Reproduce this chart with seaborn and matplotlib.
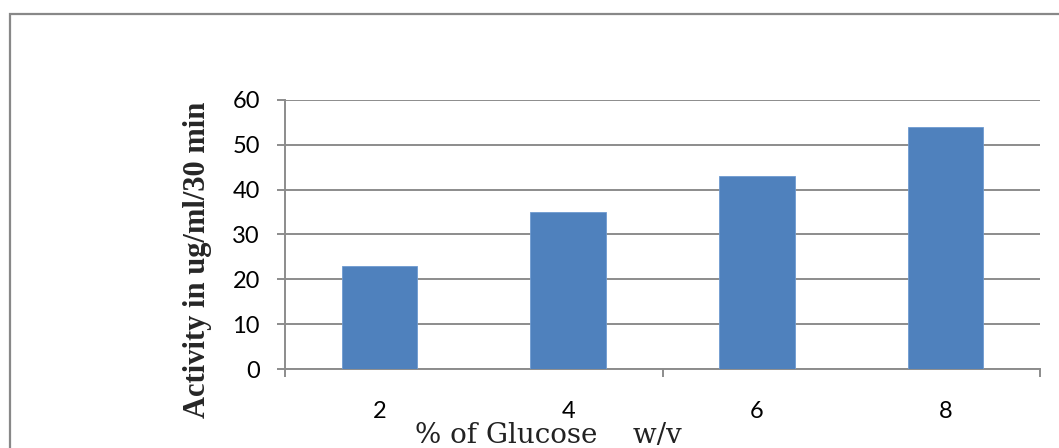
import matplotlib
matplotlib.use("Agg")
import matplotlib.pyplot as plt
from matplotlib.patches import Rectangle
from matplotlib.ticker import FixedLocator
import seaborn as sns
import pandas as pd

# Enzyme activity at different glucose concentrations
glucose = ["2", "4", "6", "8"]
activity = [23, 35, 43, 54]
y_ticks = [0, 10, 20, 30, 40, 50, 60]

df = pd.DataFrame({"glucose": glucose, "activity": activity})

sns.set_theme(style="white")
plt.rcParams["font.family"] = ["Lato", "DejaVu Sans"]

W, H = 1059, 448
fig = plt.figure(figsize=(W / 100, H / 100), dpi=100)

# Outer chart frame (runs off the right and bottom edges)
fig.patches.append(Rectangle((10 / W, -0.1), 1.2, (H - 14) / H + 0.1,
                             transform=fig.transFigure, fill=False,
                             edgecolor="#888888", linewidth=1.6))

ax = fig.add_axes([285 / W, 79 / H, 755 / W, 269 / H])
sns.barplot(data=df, x="glucose", y="activity", color="#4F81BD",
            width=0.4, saturation=1, edgecolor="#6f9bd0", linewidth=0.6,
            ax=ax, zorder=3)

ax.set_xlim(-0.5, len(glucose) - 0.5)
ax.set_ylim(0, 60)
ax.set_yticks(y_ticks)
ax.yaxis.grid(True, color="#8c8c8c", linewidth=1.4, zorder=0)
ax.set_axisbelow(True)

for s in ["top", "right"]:
    ax.spines[s].set_visible(False)
for s in ["left", "bottom"]:
    ax.spines[s].set_color("#8c8c8c")
    ax.spines[s].set_linewidth(1.4)

ax.tick_params(axis="y", which="major", left=True, length=6, width=1.4,
               color="#8c8c8c", labelsize=17, pad=12, labelcolor="black")
ax.tick_params(axis="x", which="major", bottom=False, labelsize=17,
               pad=17, labelcolor="black")
# Category-axis tick marks every second category boundary
ax.xaxis.set_minor_locator(FixedLocator([-0.5, 1.5, 3.5]))
ax.tick_params(axis="x", which="minor", bottom=True, length=6, width=1.4,
               color="#8c8c8c")

ax.set_xlabel("")
ax.set_ylabel("")

fig.text(197 / W, (H - 260) / H, "Activity in ug/ml/30 min", rotation=90,
         ha="center", va="center", fontsize=22, fontweight="bold",
         family=["Liberation Serif", "DejaVu Serif"])
fig.text(548 / W, (H - 443) / H, "% of Glucose    w/v", ha="center",
         va="baseline", fontsize=20, color="#222222",
         family=["DejaVu Serif"])

fig.savefig("out.png", dpi=100)
